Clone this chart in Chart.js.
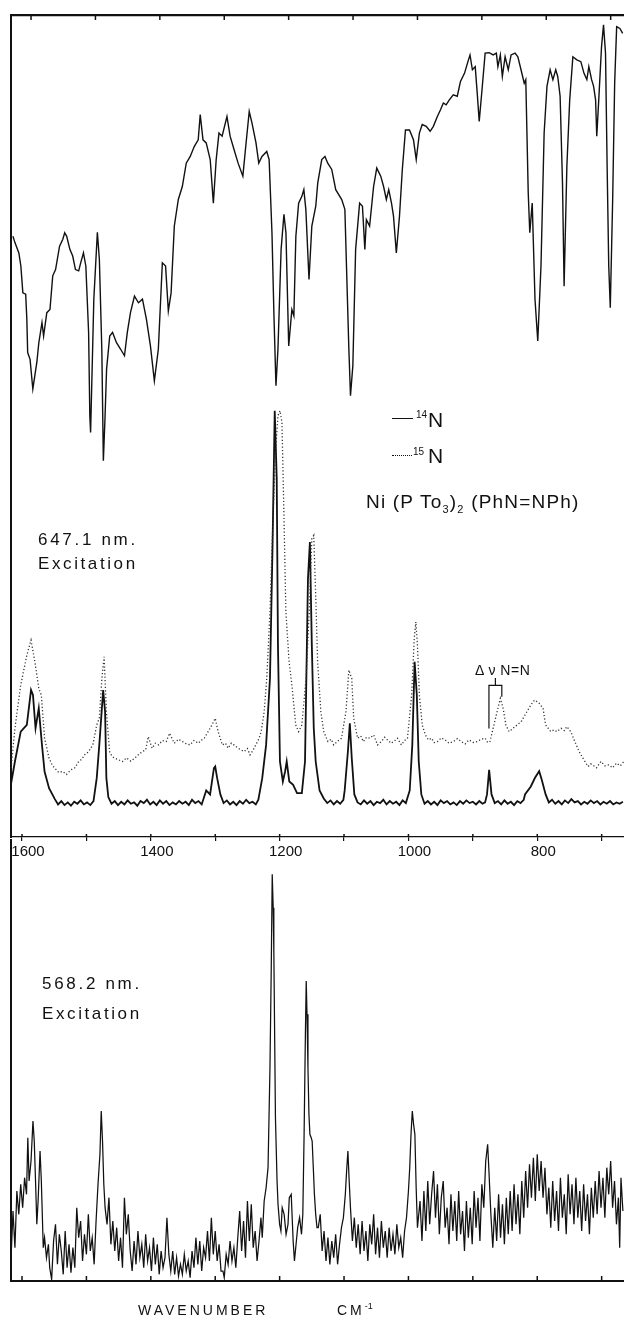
<!DOCTYPE html>
<html>
<head>
<meta charset="utf-8">
<script src="https://cdn.jsdelivr.net/npm/chart.js@4.4.1/dist/chart.umd.min.js"></script>
<style>
  body { margin: 0; background: #fff; }
  #wrap { position: relative; width: 624px; height: 1317px; overflow: hidden; }
  canvas { position: absolute; left: 0; }
  .t { position: absolute; font-family: "Liberation Sans", Arial, sans-serif; color: #111; line-height: 1; white-space: nowrap; }
  .sub { font-size: 11px; position: relative; top: 5px; }
  .sup { font-size: 9px; position: relative; top: -6px; letter-spacing: 0; }
  .key { position: absolute; height: 0; }
</style>
</head>
<body>
<div id="wrap">
  <canvas id="topChart" width="624" height="863" style="top:0"></canvas>
  <canvas id="bottomChart" width="624" height="478" style="top:839px"></canvas>

  <div class="key" style="left:392px;top:418px;width:21px;border-top:1.5px solid #111"></div>
  <div class="t" style="left:416px;top:410px;font-size:10px">14</div>
  <div class="t" style="left:428px;top:409px;font-size:21px">N</div>
  <div class="key" style="left:392px;top:455px;width:20px;border-top:1.5px dotted #111"></div>
  <div class="t" style="left:413px;top:447px;font-size:10px">15</div>
  <div class="t" style="left:428px;top:445px;font-size:21px">N</div>

  <div class="t" style="left:366px;top:492px;font-size:19px;letter-spacing:1.2px">Ni (P To<span class="sub">3</span>)<span class="sub">2</span> (PhN=NPh)</div>

  <div class="t" style="left:38px;top:531px;font-size:17px;letter-spacing:2.7px">647.1 nm.</div>
  <div class="t" style="left:38px;top:555px;font-size:17px;letter-spacing:2.6px">Excitation</div>

  <div class="t" style="left:475px;top:663px;font-size:14px;letter-spacing:0.5px">Δ ν N=N</div>

  <div class="t" style="left:42px;top:975px;font-size:17px;letter-spacing:2.7px">568.2 nm.</div>
  <div class="t" style="left:42px;top:1005px;font-size:17px;letter-spacing:2.6px">Excitation</div>

  <div class="t" style="left:138px;top:1303px;font-size:14px;letter-spacing:3px">WAVENUMBER</div>
  <div class="t" style="left:337px;top:1303px;font-size:14px;letter-spacing:3px">CM<span class="sup">-1</span></div>
</div>

<script>
"use strict";

// axis ticks (wavenumber, cm-1)
const tickValues = [1600, 1500, 1400, 1300, 1200, 1100, 1000, 900, 800, 700];
const labelValues = [1600, 1400, 1200, 1000, 800];

// N=N shift marker: 14N and 15N band positions
const shift14 = 875;
const shift15 = 855;

// IR spectrum: [wavenumber, %T]
const irSpectrum = [
  [1628.1,50.7],[1625.0,49.3],[1618.9,47.0],[1615.8,44.1],[1612.7,38.1],[1608.3,37.8],[1606.5,32.2],[1605.2,24.8],
  [1601.5,23.3],[1597.2,16.7],[1591.0,22.6],[1587.9,27.0],[1583.0,31.5],[1580.5,28.5],[1575.5,33.7],[1570.6,34.4],
  [1566.3,41.9],[1561.9,43.3],[1555.7,48.5],[1550.8,50.0],[1547.7,51.5],[1544.6,50.7],[1539.7,47.8],[1535.3,46.3],
  [1531.0,43.3],[1526.0,43.0],[1522.9,44.8],[1518.6,47.0],[1514.9,44.1],[1510.6,29.3],[1508.7,10.7],[1507.5,7.0],
  [1502.5,36.7],[1497.0,51.6],[1493.9,45.6],[1490.1,25.6],[1487.7,0.7],[1485.2,10],[1482.7,21.1],[1477.8,28.5],
  [1473.4,29.3],[1467.3,27.0],[1461.1,25.6],[1454.9,24.1],[1450.5,29.3],[1445.6,33.7],[1439.4,37.4],[1433.2,35.9],
  [1427.0,36.7],[1420.8,32.2],[1414.6,26.3],[1408.5,18.5],[1402.3,25.6],[1396.1,44.8],[1391.1,44.1],[1386.8,34.1],
  [1382.5,38.1],[1377.5,53.0],[1371.3,58.9],[1365.1,61.8],[1359.0,67.0],[1352.8,68.5],[1346.6,70.7],[1340.4,72.2],
  [1337.3,77.8],[1333.0,72.2],[1328.0,71.5],[1321.8,67.8],[1316.9,58.1],[1312.5,67.8],[1308.2,73.7],[1303.3,73.0],
  [1295.8,77.4],[1290.9,73.0],[1284.7,70.0],[1278.5,67.0],[1271.1,64.1],[1266.1,71.5],[1261.2,78.5],[1256.9,75.9],
  [1250.7,71.5],[1246.4,67.0],[1241.4,68.5],[1234.0,69.6],[1230.3,67.8],[1225.9,51.5],[1222.8,33.0],[1219.7,17.4],
  [1216.6,25.6],[1211.7,47.8],[1207.3,55.6],[1204.2,51.5],[1199.9,26.3],[1195.0,34.4],[1191.9,33.0],[1188.8,50.7],
  [1184.5,58.1],[1179.5,59.6],[1176.4,61.1],[1173.3,56.7],[1168.4,41.1],[1164.0,53.0],[1157.9,57.4],[1154.8,62.6],
  [1148.6,67.8],[1143.6,68.5],[1139.3,67.0],[1133.1,65.6],[1126.9,61.1],[1117.6,58.9],[1112.7,56.7],[1110.2,44.1],
  [1106.5,25.6],[1104.0,15.2],[1100.3,21.9],[1096.0,47.8],[1089.8,58.1],[1085.4,57.4],[1081.7,47.8],[1079.3,54.4],
  [1074.3,53.0],[1068.1,61.8],[1063.2,65.9],[1057.0,64.1],[1052.6,61.8],[1048.3,58.9],[1044.6,61.1],[1040.3,58.1],
  [1037.2,55.2],[1032.8,47.0],[1027.9,55.2],[1023.5,65.6],[1018.6,74.4],[1012.4,74.4],[1006.2,72.2],[1001.9,67.8],
  [997.0,73.7],[992.6,75.6],[986.4,75.2],[980.3,74.1],[975.3,75.2],[969.1,77.4],[964.2,78.9],[959.8,80.4],
  [955.5,80.0],[950.5,81.1],[944.4,82.2],[938.2,81.9],[933.2,85.2],[927.0,87.0],[920.8,90.0],[918.4,91.1],
  [914.7,87.8],[910.3,88.5],[907.2,82.6],[904.1,76.3],[899.8,83.3],[894.9,91.5],[888.7,91.6],[882.5,91.1],
  [877.5,91.5],[875.1,88.5],[871.3,91.1],[868.2,86.3],[863.9,90.7],[859.0,87.8],[854.6,91.1],[848.5,91.5],
  [844.1,90.7],[839.2,87.8],[834.2,84.8],[831.8,85.6],[828.0,60.4],[825.6,51.5],[821.8,58.1],[817.5,36.7],
  [813.2,27.4],[808.2,44.1],[803.3,73.7],[798.9,84.1],[794.0,87.8],[789.7,85.6],[785.3,87.8],[782.2,86.3],
  [778.5,81.9],[774.8,62.6],[772.3,39.6],[768.0,66.3],[763.6,81.1],[758.7,90.7],[752.5,90.0],[746.3,89.6],
  [741.4,87.0],[737.0,85.6],[733.9,88.5],[729.6,85.6],[726.5,84.1],[723.4,81.1],[721.6,73.0],[718.5,81.1],
  [714.2,92.9],[711.1,97.8],[708.0,91.5],[705.5,66.3],[703.0,44.1],[700.6,34.8],[696.9,58.9],[693.8,84.8],
  [690.7,97.4],[685.7,97.0],[681.4,95.9]
];

// Raman, 647.1 nm excitation, 14N: [wavenumber, intensity]
const raman647N14 = [
  [1620,63.5],[1611,113.5],[1602,158.5],[1592.5,168.5],[1586,221],[1583,213.5],[1579,163.5],[1574,193.5],
  [1569,138.5],[1565,98.5],[1558,73.5],[1549,57],
  [1544,49],[1539,54],[1534,48],[1529,52],[1524,47],[1519,53],[1514,50],[1509,55],[1504,49],[1499,52],[1494,48],[1489,54],
  [1484,88.5],[1480,138.5],[1476,193.5],[1474,221],[1471,188.5],[1469,88.5],[1466,60],
  [1461,50],[1456,54],[1451,48],[1446,53],[1441,49],[1436,55],[1431,50],[1426,52],[1421,47],[1416,54],
  [1411,51],[1406,56],[1401,49],[1396,53],[1391,48],[1386,55],[1381,50],[1376,54],[1371,48],[1366,52],
  [1361,49],[1356,54],[1351,50],[1346,53],[1341,48],[1336,56],[1331,51],[1326,54],[1321,49],
  [1314,70],[1308,64],[1302,103.5],[1300,106],[1297,88.5],[1292,64],
  [1287,51],[1282,55],[1277,49],[1272,53],[1267,48],[1262,54],[1257,50],[1252,56],[1247,51],[1242,53],[1237,49],[1233,56],
  [1227,88.5],[1221,138.5],[1215,238.5],[1211,438.5],[1207.6,641],[1204.5,538.5],[1202.6,288.5],[1199.5,113.5],
  [1195,83.5],[1191.5,98.5],[1189,113.5],[1185,83.5],[1179,78.5],[1173,66],[1165.5,66],[1160.6,113.5],
  [1156,388.5],[1153,443.5],[1150,288.5],[1147,163.5],[1144,113.5],[1138,70],[1131.5,58],
  [1126,51],[1121,55],[1116,49],[1111,54],[1106,50],[1101,56],
  [1099,70],[1094,128.5],[1091,171],[1088,118.5],[1084,64],
  [1079,52],[1074,49],[1069,55],[1064,50],[1059,54],[1054,48],[1049,53],[1044,51],[1039,56],[1034,49],
  [1029,54],[1024,50],[1019,53],[1014,48],[1009,55],[1004,51],
  [998,70],[994,138.5],[990.4,263.5],[987,213.5],[984,113.5],[980,64],
  [975,50],[970,54],[965,49],[960,53],[955,48],[950,55],[945,51],[940,54],[935,49],[930,52],
  [925,48],[920,54],[915,50],[910,55],[905,51],[900,53],[895,49],[890,54],[885,50],[881,52],
  [878,64],[874.7,101],[871,64],
  [866,51],[861,54],[856,49],[851,55],[846,50],[841,53],[836,48],[831,54],[826,51],[821,56],
  [819,64],[810,76],[803.5,89],[797,99],[793,86],[787,64],
  [782,52],[777,56],[772,50],[767,54],[762,49],[757,55],[752,51],[747,57],[742,52],[737,54],
  [732,49],[727,53],[722,50],[717,55],[712,51],[707,54],[702,49],[697,53],[692,50],[687,54],
  [682,49],[677,52],[672,50],[667,53]
];

// Raman, 647.1 nm excitation, 15N: [wavenumber, intensity]
const raman647N15 = [
  [1620,73.5],[1611,163.5],[1602,228.5],[1592.5,273.5],[1586,296],[1580,263.5],[1574,223.5],[1570,213.5],
  [1565,148.5],[1558,118.5],[1553,108],[1549,103.5],[1543,97],[1537,98.5],[1531,94],[1524,101],[1518,104],
  [1512,113.5],[1507,117],[1503,123.5],[1497,128],[1490,138.5],[1484,168.5],[1480,178.5],[1476,238.5],
  [1472.5,271],[1469,188.5],[1464,128.5],[1460,121],[1456,118.5],[1450,116],[1444,113.5],[1438,119],
  [1431,114],[1425,118.5],[1419,124],[1413,128.5],[1408,131],[1404,151],[1398,133.5],[1393,141],[1388,138.5],
  [1382,145],[1376,143.5],[1371,156],[1363.5,141],[1357,147],[1351,143.5],[1345,140],[1339,138.5],[1333,145],
  [1326,141],[1321,146],[1317,148.5],[1311,158.5],[1305,168.5],[1300,178.5],[1295.5,158.5],[1289,138.5],
  [1284,141],[1280,133.5],[1275,141],[1271,138.5],[1264.5,133.5],[1260,131],[1255,128.5],[1250,133],
  [1246,123.5],[1241,131],[1237,138.5],[1232,148],[1228.6,158.5],[1224,188.5],[1220,238.5],[1215,338.5],
  [1210,488.5],[1205.7,588.5],[1202.6,633.5],[1199.5,641],[1196.4,623.5],[1193.4,488.5],[1190.3,338.5],
  [1185.3,263.5],[1181,228.5],[1175,168.5],[1170.5,158.5],[1165.5,168.5],[1159,238.5],[1154,338.5],
  [1150,448.5],[1147,453.5],[1144,363.5],[1141,263.5],[1136,188.5],[1131.5,158.5],[1125,143.5],[1120,147],
  [1116,138.5],[1110,144],[1104,148.5],[1097,188.5],[1092.5,251],[1088,238.5],[1085,178.5],[1079,148.5],
  [1074,152],[1070,143.5],[1065,150],[1060,148.5],[1054,153.5],[1048,138.5],[1042,143.5],[1037,150],
  [1032.5,146],[1027,141],[1023,143.5],[1017,148.5],[1011,138.5],[1006,145],[1001.5,148.5],[995,213.5],
  [991,298.5],[988.5,323.5],[986,288.5],[983,213.5],[978.6,168.5],[973.7,153.5],[969,146],[964,148.5],
  [960,142],[955,143.5],[949,149],[943,146],[937,141],[930,143.5],[924,148],[918,143.5],[912,140],[906,146],
  [899,142],[893,143.5],[887,147],[881,148.5],[877,142],[873.4,143.5],[868.5,163.5],[862.3,188.5],
  [857.3,208.5],[853,193.5],[848.7,168.5],[843.7,158.5],[837.5,163.5],[831.4,168.5],[825,173.5],[819,183.5],
  [813,193.5],[806.6,203.5],[803.5,206],[797,201],[791,193.5],[787,168.5],[779,158.5],[774,161],[769.5,158.5],
  [763,163.5],[758,160],[754,166],[748,158.5],[741.6,143.5],[735,128.5],[729,118.5],[725,112],[721,106],
  [717,110],[714,108.5],[708,104],[701,113.5],[695,107],[689,108.5],[683,104],[677,111],[671,107],[665.5,113.5]
];

// Raman, 568.2 nm excitation: [wavenumber, intensity]
const raman568 = [
  [1620,18],[1617,7],[1614,21],[1611,10],[1608,27],[1605,20],[1602,29],[1599,22],[1596,31],[1593,26],
  [1591,43],[1589,30],[1586,36],[1583,48],[1581,42],[1579,30],[1577,17],[1575,24],[1572,39],[1570,30],
  [1567,10],[1565,13],[1562,7],[1559,11],[1557,4],[1554,0.5],[1551,12],[1548,17],[1545,5],[1542,14],
  [1539,9],[1536,2],[1533,15],[1530,4],[1527,11],[1524,2.5],[1521,10],[1518,4],[1515,22],[1512,13],
  [1509,18],[1506,6],[1503,14],[1500,8],[1497,20],[1494,9],[1491,13],[1488,5],[1485,18],[1482,29],
  [1479,38],[1477,51],[1475,42],[1473,29],[1471,22],[1468,17],[1465,25],[1462,11],[1459,18],[1456,9],
  [1453,16],[1450,6],[1447,13],[1444,4],[1441,25],[1438,14],[1435,20],[1432,9],[1429,3],[1426,12],
  [1423,5],[1420,15],[1417,7],[1414,11],[1411,4],[1408,14],[1405,6],[1402,10],[1399,3],[1396,13],
  [1393,5],[1390,11],[1387,2],[1384,9],[1381,4],[1378,7],[1375,19],[1372,8],[1369,3],[1366,9],
  [1363,2],[1360,7],[1357,1.5],[1354,5],[1351,2],[1348,8],[1345,3],[1342,6],[1339,1],[1336,9],
  [1333,4],[1330,13],[1327,5],[1324,12],[1321,3],[1318,10],[1315,7],[1312,15],[1309,6],[1306,19],
  [1303,8],[1300,15],[1297,6],[1294,11],[1291,3],[1288,3],[1286,1],[1283,8],[1280,5],[1277,12],
  [1274,6],[1271,10],[1268,4],[1265,13],[1262,21],[1259,9],[1256,18],[1253,7],[1250,24],[1247,12],
  [1244,23],[1241,10],[1238,15],[1235,6],[1232,12],[1229,19],[1227,13],[1224,24],[1221,28],[1218,34],
  [1215,64],[1213,94],[1211.5,122],[1210,112],[1209,99],[1206.5,49],[1204,30],[1202.5,23],[1200,17],[1198,15],
  [1196,22],[1193,20],[1190,14],[1187,17],[1185,25],[1182,26],[1179,12],[1177,6],[1174,12],[1172,16],
  [1169,19],[1166,14],[1164,20],[1162,44],[1160,74],[1158.7,90],[1157.5,80],[1156,64],[1154.5,50],[1153,44],
  [1151,43],[1149.5,42],[1147.5,33],[1146,26],[1144,20],[1142,16],[1140,16],[1137,20],[1134,9],[1131,15],
  [1128,6],[1125,13],[1122,5],[1119,12],[1116,7],[1113,14],[1110,5],[1107,11],[1104,16],[1101,19],
  [1098,26],[1096,33],[1094,39],[1092,30],[1090,22],[1087,12],[1084,19],[1081,10],[1078,17],[1075,8],
  [1072,18],[1069,9],[1066,15],[1063,6],[1060,17],[1057,11],[1054,20],[1051,8],[1048,16],[1045,7],
  [1042,18],[1039,10],[1036,15],[1033,7],[1030,16],[1027,9],[1024,14],[1021,8],[1018,17],[1015,10],
  [1012,13],[1009,7],[1006,15],[1003,19],[1000,27],[998,34],[996,44],[994,51],[992,47],[990,44],
  [988,28],[986,16],[982,24],[979,12],[976,27],[973,15],[970,30],[967,17],[964,26],[961,33],
  [958,19],[955,29],[952,14],[949,25],[946,30],[943,16],[940,22],[937,11],[934,26],[931,15],
  [928,24],[925,12],[922,27],[919,14],[916,21],[913,9],[910,24],[907,13],[904,22],[901,11],
  [898,27],[895,16],[892,25],[889,12],[886,29],[883,22],[880,36],[877,41],[875,33],[872,20],
  [869,10],[866,22],[863,12],[860,26],[857,13],[854,23],[851,11],[848,25],[845,14],[842,27],
  [839,15],[836,29],[833,17],[830,26],[827,14],[824,30],[821,19],[818,33],[815,22],[812,35],
  [809,25],[806,37],[803,24],[800,38],[797,27],[794,36],[791,25],[788,34],[785,20],[782,28],
  [779,16],[776,30],[773,18],[770,27],[767,15],[764,31],[761,19],[758,26],[755,14],[752,32],
  [749,20],[746,29],[743,17],[740,31],[737,19],[734,27],[731,15],[728,29],[725,18],[722,26],
  [719,14],[716,28],[713,19],[710,30],[707,20],[704,33],[701,22],[698,31],[695,19],[692,34],
  [689,26],[686,36],[683,22],[680,30],[677,17],[674,25],[672,10],[670,31],[667,21]
];

const toXY = arr => arr.map(p => ({ x: p[0], y: p[1] }));
const ink = '#111';
const setTicks = scale => { scale.ticks = tickValues.map(v => ({ value: v })); };

// short tick marks pointing into the plot frame
const inwardTicks = {
  id: 'inwardTicks',
  afterDraw(chart, args, opts) {
    const ctx = chart.ctx, area = chart.chartArea;
    ctx.save();
    ctx.strokeStyle = ink;
    ctx.lineWidth = 1.5;
    (opts.axes || []).forEach(a => {
      const sc = chart.scales[a.id];
      const y0 = a.side === 'top' ? area.top : area.bottom;
      const dir = a.side === 'top' ? 1 : -1;
      sc.ticks.forEach(t => {
        const px = sc.getPixelForValue(t.value);
        ctx.beginPath();
        ctx.moveTo(px, y0);
        ctx.lineTo(px, y0 + dir * a.len);
        ctx.stroke();
      });
    });
    ctx.restore();
  }
};

// bracket marking the N=N isotope shift
const shiftBracket = {
  id: 'shiftBracket',
  afterDatasetsDraw(chart) {
    const { ctx, scales: { x, y } } = chart;
    const mid = (shift14 + shift15) / 2;
    ctx.save();
    ctx.strokeStyle = ink;
    ctx.lineWidth = 1.2;
    ctx.beginPath();
    ctx.moveTo(x.getPixelForValue(shift14), y.getPixelForValue(163));
    ctx.lineTo(x.getPixelForValue(shift14), y.getPixelForValue(228));
    ctx.lineTo(x.getPixelForValue(shift15), y.getPixelForValue(228));
    ctx.lineTo(x.getPixelForValue(shift15), y.getPixelForValue(211));
    ctx.moveTo(x.getPixelForValue(mid), y.getPixelForValue(228));
    ctx.lineTo(x.getPixelForValue(mid), y.getPixelForValue(239));
    ctx.stroke();
    ctx.restore();
  }
};

const hiddenGrid = { drawOnChartArea: false, drawTicks: false };

// IR + 647.1 nm Raman
new Chart(document.getElementById('topChart'), {
  type: 'line',
  data: {
    datasets: [
      { label: 'IR', data: toXY(irSpectrum), xAxisID: 'xIR', yAxisID: 'yIR', borderColor: ink, borderWidth: 1.4 },
      { label: '15N', data: toXY(raman647N15), xAxisID: 'x', yAxisID: 'y', borderColor: '#333', borderWidth: 1.3, borderDash: [1.2, 2.2] },
      { label: '14N', data: toXY(raman647N14), xAxisID: 'x', yAxisID: 'y', borderColor: ink, borderWidth: 1.8 }
    ]
  },
  options: {
    responsive: false,
    animation: false,
    devicePixelRatio: 1,
    layout: { padding: { left: 11, right: 0, top: 15, bottom: 0 } },
    elements: { point: { radius: 0 }, line: { tension: 0 } },
    plugins: {
      legend: { display: false },
      tooltip: { enabled: false },
      inwardTicks: { axes: [{ id: 'xIR', side: 'top', len: 5 }, { id: 'x', side: 'bottom', len: 3 }] }
    },
    scales: {
      x: {
        type: 'linear', reverse: true, min: 665.3, max: 1617.1, position: 'bottom',
        afterBuildTicks: setTicks,
        ticks: {
          callback: v => labelValues.includes(v) ? String(v) : '',
          font: { family: 'Liberation Sans', size: 15 }, color: ink,
          padding: 2, labelOffset: 6, maxRotation: 0, autoSkip: false
        },
        grid: { drawOnChartArea: false, tickLength: 4, color: ink, lineWidth: 1.2 },
        border: { color: ink, width: 1.2 }
      },
      xIR: {
        type: 'linear', reverse: true, min: 679.3, max: 1631.1, position: 'top',
        afterBuildTicks: setTicks,
        ticks: { display: false },
        grid: hiddenGrid,
        border: { color: ink, width: 2.2 }
      },
      y: {
        type: 'linear', min: 0, max: 1236, position: 'left',
        ticks: { display: false },
        grid: hiddenGrid,
        border: { color: ink, width: 2 }
      },
      yIR: { type: 'linear', min: -83.1, max: 100, display: false }
    }
  },
  plugins: [inwardTicks, shiftBracket]
});

// 568.2 nm Raman
new Chart(document.getElementById('bottomChart'), {
  type: 'line',
  data: {
    datasets: [
      { label: '568.2 nm', data: toXY(raman568), borderColor: ink, borderWidth: 1.25 }
    ]
  },
  options: {
    responsive: false,
    animation: false,
    devicePixelRatio: 1,
    layout: { padding: { left: 11, right: 0, top: 0, bottom: 36 } },
    elements: { point: { radius: 0 }, line: { tension: 0 } },
    plugins: {
      legend: { display: false },
      tooltip: { enabled: false },
      inwardTicks: { axes: [{ id: 'x', side: 'bottom', len: 5 }] }
    },
    scales: {
      x: {
        type: 'linear', reverse: true, min: 665.3, max: 1617.1, position: 'bottom',
        afterBuildTicks: setTicks,
        ticks: { display: false },
        grid: hiddenGrid,
        border: { color: ink, width: 2 }
      },
      y: {
        type: 'linear', min: 0, max: 132.6,
        ticks: { display: false },
        grid: hiddenGrid,
        border: { color: ink, width: 2 }
      }
    }
  },
  plugins: [inwardTicks]
});
</script>
</body>
</html>
